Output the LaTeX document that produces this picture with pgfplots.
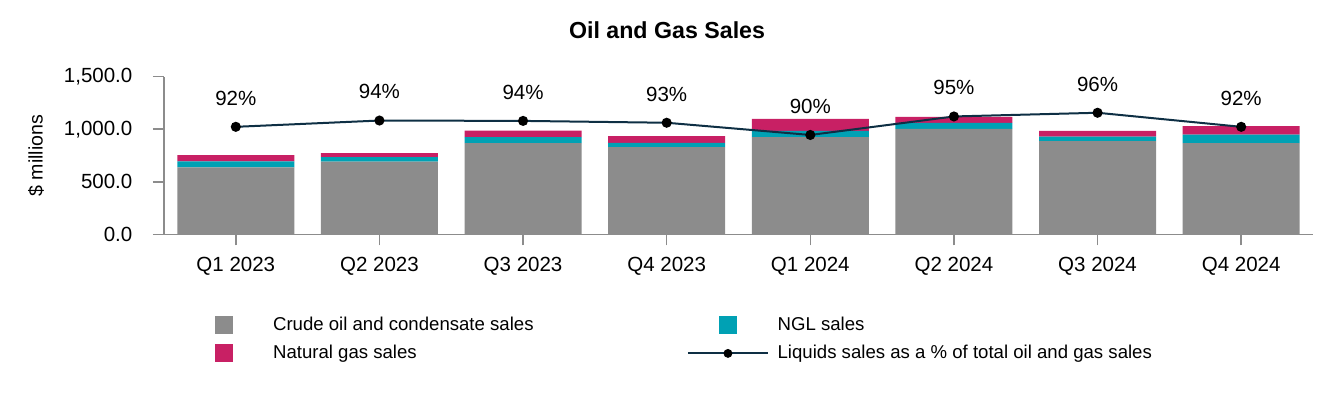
\documentclass[border=0pt]{standalone}
\usepackage{fontspec}
\setmainfont{Liberation Sans}
\usepackage{pgfplots}
\usepackage{pgfplotstable}
\pgfplotsset{compat=1.18}
\pgfplotsset{/pgf/number format/assume math mode=true}

\definecolor{crude}{RGB}{140,140,140}
\definecolor{ngl}{RGB}{0,161,180}
\definecolor{natgas}{RGB}{200,32,100}
\definecolor{liqline}{RGB}{14,47,68}
\definecolor{axisgray}{RGB}{140,140,140}

% Quarterly sales, $ millions
\pgfplotstableread{
idx crude ngl natgas
0 638 58 58
1 693 42 38
2 869 57 61
3 830 42 62
4 926 58 115
5 1003 58 57
6 888 42 55
7 869 80 80
}\salestable

% Liquids sales as a share of total oil and gas sales, %
\pgfplotstableread{
idx pct
0 92.2
1 93.9
2 93.8
3 93.3
4 90.0
5 95.0
6 96.0
7 92.2
}\liquidstable

\pgfplotsset{
  common/.style={
    at={(0,0)}, anchor=south west,
    scale only axis, width=574.5pt, height=78.9pt,
    xmin=-0.5, xmax=7.5,
  },
  swatch/.style={
    legend image code/.code={
      \fill[#1] (-4.5pt,-4.5pt) rectangle (4.5pt,4.5pt);
      \path (-20pt,0pt) (20pt,0pt);
    }
  },
}

\begin{document}
\begin{tikzpicture}
\useasboundingbox (-82pt,-82.75pt) rectangle (585pt,117.25pt);

\begin{axis}[
  common,
  ymin=0, ymax=1500,
  ybar stacked, bar width=0.815,
  axis x line*=bottom, axis y line*=left,
  axis line style={axisgray, line width=0.8pt, -},
  tick align=outside, major tick length=5.5pt,
  tick style={axisgray, line width=0.8pt},
  xtick={0,...,7},
  xticklabels={Q1 2023,Q2 2023,Q3 2023,Q4 2023,Q1 2024,Q2 2024,Q3 2024,Q4 2024},
  ytick={0,500,1000,1500},
  yticklabel style={
    /pgf/number format/fixed,
    /pgf/number format/fixed zerofill,
    /pgf/number format/precision=1,
    /pgf/number format/1000 sep={,},
    xshift=-6.8pt,
  },
  tick label style={font=\fontsize{10.25}{12}\selectfont},
  xticklabel style={yshift=-2.3pt},
  ylabel={\$ millions},
  ylabel style={font=\fontsize{9.8}{11}\selectfont,
    at={(axis description cs:-0.1114,0.5)}, anchor=center},
  title={Oil and Gas Sales},
  title style={font=\bfseries\fontsize{11.6}{14}\selectfont,
    at={(axis description cs:0.4378,1.2433)}, anchor=base, yshift=-6pt},
  legend columns=2,
  legend cell align=left,
  legend style={
    at={(axis description cs:0.0174,-0.5165)}, anchor=north west,
    draw=none, fill=none, inner sep=0pt,
    nodes={inner sep=0pt},
    font=\fontsize{9.3}{11}\selectfont,
    column sep=4.35pt, row sep=5pt,
    /tikz/every even column/.append style={column sep=76.65pt},
  },
]
\addplot[fill=crude, draw=none, swatch={crude}] table[x=idx, y=crude] {\salestable};
\addlegendentry{Crude oil and condensate sales}
\addplot[fill=ngl, draw=none, swatch={ngl}] table[x=idx, y=ngl] {\salestable};
\addlegendentry{NGL sales}
\addplot[fill=natgas, draw=none, swatch={natgas}] table[x=idx, y=natgas] {\salestable};
\addlegendentry{Natural gas sales}
\addlegendimage{legend image code/.code={
    \draw[liqline, line width=1pt] (-20pt,0pt) -- (20pt,0pt);
    \fill[black] (0pt,0pt) circle (2pt);
}}
\addlegendentry{Liquids sales as a \% of total oil and gas sales}
\end{axis}

\begin{axis}[
  common,
  ymin=63.10, ymax=105.75,
  hide axis, clip=false,
]
\addplot[liqline, line width=1pt,
  mark=*, mark size=2pt, mark options={fill=black, draw=black},
  nodes near coords={\pgfmathprintnumber[fixed,precision=0]{\pgfplotspointmeta}\%},
  every node near coord/.append style={
    font=\fontsize{10.25}{12}\selectfont, text=black,
    anchor=base, yshift=10.85pt},
] table[x=idx, y=pct] {\liquidstable};
\end{axis}
\end{tikzpicture}
\end{document}
